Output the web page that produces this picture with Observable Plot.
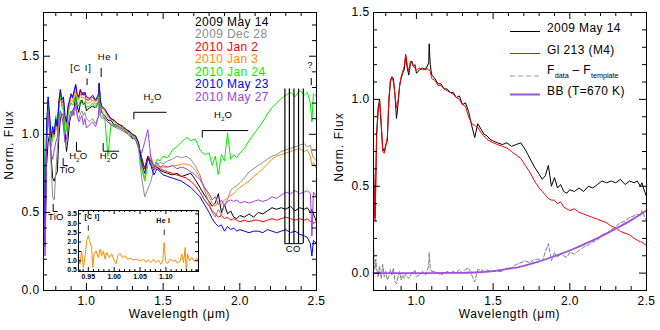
<!DOCTYPE html>
<html><head><meta charset="utf-8">
<script src="https://cdn.jsdelivr.net/npm/d3@7"></script>
<script src="https://cdn.jsdelivr.net/npm/@observablehq/plot@0.6"></script>
<style>
body{margin:0;background:#fff;}
#wrap{position:relative;width:660px;height:330px;}
#left,#right,#inset{position:absolute;}
#left{left:0;top:0;width:330px;height:330px}
#right{left:330px;top:0;width:330px;height:330px}
#inset{left:64px;top:208px;width:136px;height:75px}
svg{display:block;overflow:visible}
</style></head><body><div id="wrap"><div id="left"></div><div id="right"></div><div id="inset"></div></div>
<script>
// ---------------- data ----------------
const WAVE = [0.72,0.725,0.73,0.735,
 0.74,0.75,0.76,0.77,0.78,0.79,0.80,0.81,0.82,0.83,0.84,0.85,0.86,0.87,0.88,0.89,0.90,0.91,0.92,0.93,0.94,0.95,0.96,0.97,0.98,0.99,1.00,
 1.02,1.04,1.06,1.08,1.083,1.09,
 1.10,1.12,1.14,1.16,1.18,1.20,1.22,1.24,1.26,1.28,1.30,1.32,1.34,1.36,1.38,1.40,1.42,1.44,1.46,1.48,1.50,
 1.53,1.56,1.59,1.62,1.65,1.68,1.71,1.74,1.77,1.80,
 1.82,1.84,1.86,1.88,1.90,1.92,1.94,1.96,1.98,2.00,
 2.03,2.06,2.09,2.12,2.15,2.18,2.21,2.24,2.27,2.30,2.33,2.36,2.39,2.42,
 2.44,2.46,2.47,2.48,2.50];

const MAY14 = [0.60,0.45,0.32,0.55,
 0.80,0.95,1.00,0.85,0.72,0.70,0.74,0.76,0.98,1.10,1.13,1.12,1.02,0.89,0.97,1.08,1.12,1.15,1.17,1.25,1.18,1.14,1.20,1.22,1.19,1.20,1.15,
 1.17,1.18,1.17,1.21,1.32,1.20,
 1.14,1.12,1.09,1.09,1.06,1.06,1.04,1.04,1.01,1.02,0.97,0.98,0.93,0.85,0.78,0.86,0.83,0.80,0.79,0.77,0.76,
 0.75,0.74,0.75,0.73,0.74,0.75,0.71,0.66,0.61,0.57,
 0.54,0.56,0.62,0.50,0.55,0.49,0.51,0.47,0.46,0.48,
 0.47,0.49,0.47,0.50,0.49,0.51,0.53,0.52,0.53,0.52,0.54,0.51,0.53,0.52,
 0.53,0.50,0.52,0.49,0.44];

const DEC28 = [1.00,0.75,0.50,0.62,
 0.95,1.10,1.00,0.80,0.60,0.58,0.75,0.90,1.05,1.15,1.10,1.08,0.95,0.92,1.05,1.10,1.12,1.15,1.12,1.18,1.12,1.10,1.13,1.15,1.12,1.14,1.10,
 1.08,1.10,1.07,1.12,1.25,1.12,
 1.10,1.10,1.08,1.07,1.05,1.05,1.04,1.03,1.02,1.01,1.00,0.98,0.90,0.72,0.60,0.65,0.70,0.78,0.80,0.82,0.81,
 0.83,0.84,0.86,0.85,0.86,0.84,0.80,0.74,0.64,0.56,
 0.50,0.47,0.52,0.48,0.55,0.58,0.64,0.66,0.67,0.69,
 0.72,0.76,0.78,0.80,0.82,0.84,0.86,0.87,0.89,0.90,0.91,0.92,0.93,0.94,
 0.92,0.93,0.88,0.85,0.83];

const JAN2 = [0.90,0.62,0.35,0.72,
 1.02,1.22,1.10,0.97,1.02,1.01,1.08,1.04,1.21,1.29,1.20,1.22,1.10,1.06,1.17,1.21,1.25,1.23,1.27,1.31,1.24,1.23,1.29,1.25,1.27,1.25,1.22,
 1.22,1.24,1.21,1.24,1.32,1.21,
 1.18,1.16,1.12,1.10,1.09,1.07,1.06,1.04,1.03,1.02,1.00,0.99,0.94,0.84,0.78,0.86,0.81,0.77,0.79,0.78,0.77,
 0.76,0.75,0.74,0.73,0.72,0.70,0.67,0.63,0.58,0.54,
 0.51,0.49,0.47,0.48,0.46,0.47,0.45,0.46,0.45,0.44,
 0.45,0.44,0.45,0.45,0.44,0.45,0.46,0.45,0.46,0.47,0.46,0.45,0.46,0.45,
 0.46,0.44,0.45,0.43,0.44];

const JAN3 = [0.85,0.65,0.40,0.70,
 1.00,1.18,1.08,0.95,1.00,0.98,1.05,1.02,1.18,1.25,1.18,1.20,1.08,1.04,1.15,1.19,1.22,1.21,1.25,1.28,1.22,1.22,1.26,1.23,1.24,1.23,1.20,
 1.20,1.22,1.19,1.22,1.30,1.20,
 1.17,1.15,1.11,1.09,1.08,1.06,1.05,1.04,1.02,1.01,0.99,0.98,0.93,0.80,0.72,0.84,0.86,0.80,0.80,0.79,0.79,
 0.79,0.80,0.80,0.81,0.81,0.80,0.77,0.72,0.66,0.60,
 0.56,0.54,0.57,0.55,0.58,0.59,0.61,0.62,0.64,0.66,
 0.68,0.70,0.73,0.75,0.78,0.81,0.84,0.86,0.87,0.88,0.89,0.90,0.91,0.89,
 0.90,0.86,0.80,0.82,0.78];

const JAN24 = [1.10,0.80,0.45,0.75,
 1.05,1.22,1.05,0.92,0.98,1.02,1.12,1.05,1.15,1.25,1.18,1.15,1.00,1.03,1.12,1.18,1.20,1.19,1.22,1.25,1.20,1.18,1.22,1.20,1.19,1.21,1.17,
 1.18,1.20,1.17,1.21,1.28,1.18,
 1.15,1.10,0.86,1.06,1.06,1.05,1.04,1.03,1.01,1.00,0.99,0.97,0.92,0.78,0.70,0.80,0.82,0.79,0.84,0.83,0.86,
 0.85,0.90,0.92,0.95,0.98,0.96,0.97,0.90,0.87,0.88,
 0.80,0.86,0.74,0.87,0.83,1.01,0.84,0.87,0.85,0.88,
 0.91,0.96,1.00,1.04,1.08,1.13,1.17,1.20,1.23,1.25,1.27,1.24,1.28,1.25,
 1.27,1.20,1.08,1.26,1.24];

const MAY23 = [0.95,0.60,0.28,0.70,
 1.05,1.24,1.12,0.98,1.05,1.00,1.10,1.05,1.20,1.28,1.22,1.24,1.12,1.08,1.18,1.22,1.26,1.24,1.28,1.32,1.26,1.24,1.28,1.27,1.25,1.27,1.24,
 1.23,1.25,1.22,1.26,1.33,1.22,
 1.18,1.16,1.13,1.10,1.09,1.07,1.06,1.05,1.03,1.02,1.00,0.99,0.95,0.82,0.75,0.85,0.80,0.74,0.78,0.76,0.74,
 0.73,0.72,0.71,0.70,0.68,0.66,0.63,0.60,0.55,0.50,
 0.46,0.43,0.41,0.42,0.38,0.41,0.39,0.40,0.38,0.39,
 0.38,0.37,0.38,0.38,0.37,0.39,0.38,0.37,0.38,0.39,0.37,0.38,0.36,0.35,
 0.34,0.30,0.22,0.32,0.30];

const MAY27 = [0.80,0.45,0.22,0.50,
 0.90,1.15,1.02,0.88,0.84,0.90,0.95,0.98,1.10,1.15,1.12,1.05,0.95,0.97,1.05,1.12,1.15,1.12,1.16,1.20,1.12,1.08,1.10,1.12,1.06,1.10,1.04,
 1.06,1.08,1.05,1.12,1.22,1.13,
 1.12,1.10,1.08,1.06,1.05,1.04,1.03,1.02,1.01,0.99,0.98,0.96,0.92,0.88,0.95,1.03,0.85,0.78,0.82,0.79,0.80,
 0.79,0.80,0.78,0.79,0.78,0.76,0.74,0.71,0.66,0.62,
 0.58,0.60,0.55,0.58,0.54,0.57,0.58,0.57,0.58,0.56,
 0.57,0.56,0.57,0.58,0.57,0.58,0.60,0.59,0.61,0.63,0.62,0.64,0.62,0.63,
 0.64,0.62,0.35,0.63,0.60];

const GL213 = [0.60,0.45,0.30,0.50,
 0.78,0.92,0.99,0.88,0.70,0.69,0.73,0.78,1.00,1.11,1.13,1.10,1.03,0.95,0.99,1.07,1.13,1.16,1.19,1.26,1.20,1.16,1.22,1.21,1.19,1.18,1.17,
 1.18,1.17,1.18,1.17,1.17,1.16,
 1.12,1.11,1.08,1.08,1.06,1.05,1.04,1.03,1.01,1.00,0.97,0.96,0.90,0.86,0.85,0.84,0.81,0.79,0.77,0.76,0.75,
 0.74,0.73,0.72,0.70,0.68,0.66,0.62,0.58,0.53,0.49,
 0.47,0.45,0.43,0.42,0.42,0.40,0.41,0.38,0.37,0.36,
 0.37,0.35,0.34,0.33,0.32,0.31,0.30,0.29,0.27,0.26,0.24,0.23,0.22,0.20,
 0.19,0.18,0.18,0.17,0.16];

const DIFF = [0.18,0.05,0.02,0.08,
 0.03,-0.02,0.04,-0.03,0.05,-0.02,0.01,-0.04,-0.02,0.02,-0.01,0.03,-0.05,-0.06,-0.02,0.01,-0.04,-0.01,-0.03,0.00,-0.02,-0.03,-0.02,0.01,0.00,0.02,-0.02,
 -0.01,0.01,-0.01,0.04,0.12,0.03,
 0.01,0.01,0.00,-0.01,0.00,0.01,0.00,0.01,0.00,0.02,0.00,0.02,0.03,-0.01,-0.05,0.02,0.02,0.01,0.02,0.01,0.01,
 0.01,0.01,0.03,0.03,0.05,0.06,0.07,0.06,0.08,0.08,
 0.07,0.12,0.17,0.07,0.12,0.09,0.11,0.10,0.09,0.12,
 0.11,0.13,0.15,0.16,0.18,0.19,0.22,0.23,0.25,0.27,0.29,0.30,0.32,0.33,
 0.34,0.33,0.36,0.34,0.30];

const BB_WAVE = [0.72,0.9,1.1,1.2,1.3,1.4,1.5,1.6,1.7,1.8,1.9,2.0,2.1,2.2,2.3,2.4,2.5];
const BB_FLUX = [0,0,0,0.001,0.002,0.005,0.012,0.024,0.042,0.067,0.097,0.13,0.168,0.21,0.256,0.305,0.36];

const INSET_WAVE = [0.9307,0.9339,0.9371,0.9404,0.9436,0.9468,0.9501,0.9533,0.9565,0.9585,0.9610,0.9649,0.9694,0.9727,0.9759,0.9791,0.9824,0.9856,0.9908,0.9953,0.9998,1.0037,1.0069,1.0114,1.0166,1.0211,1.0256,1.0308,1.0373,1.0437,1.0502,1.0566,1.0618,1.0663,1.0708,1.0760,1.0811,1.0857,1.0902,1.0941,1.0966,1.0992,1.1031,1.1082,1.1134,1.1179,1.1225,1.1276,1.1308,1.1341,1.1373,1.1392,1.1418,1.1457,1.1502,1.1547,1.1586,1.1632];
const INSET_FLUX = [1.27,0.82,1.53,0.64,1.17,2.07,2.34,1.98,1.71,0.64,1.36,1.53,1.17,1.62,1.27,1.53,1.09,1.44,1.17,1.36,1.04,0.85,1.27,1.39,1.17,1.27,1.09,1.14,1.04,1.09,1.00,1.07,0.94,1.04,0.90,1.09,0.90,1.04,0.82,1.00,1.98,1.00,0.85,1.09,0.98,1.04,0.87,1.00,1.36,0.90,1.71,0.46,1.36,1.00,1.17,0.98,1.14,1.00];

const LEFT_NAMES = ["2009 May 14","2009 Dec 28","2010 Jan 2","2010 Jan 3","2010 Jan 24","2010 May 23","2010 May 27"];
const LEFT_COLORS = ["#000000","#8c8c8c","#ff0000","#ff8c00","#00ee00","#0000ff","#a040e0"];
const RIGHT_NAMES = ["2009 May 14","Gl 213 (M4)","F_data – F_template","BB (T=670 K)"];

const X_MAJOR = [1.0,1.5,2.0,2.5];
const X_MINOR = [0.8,0.9,1.1,1.2,1.3,1.4,1.6,1.7,1.8,1.9,2.1,2.2,2.3,2.4];
const LY_MAJOR = [0,0.5,1.0,1.5];
const LY_MINOR = [0.1,0.2,0.3,0.4,0.6,0.7,0.8,0.9,1.1,1.2,1.3,1.4,1.6,1.7];
const RY_MAJOR = [0,0.5,1.0,1.5];
const RY_MINOR = [0.1,0.2,0.3,0.4,0.6,0.7,0.8,0.9,1.1,1.2,1.3,1.4];
const IX_MAJOR = [0.95,1.00,1.05,1.10];
const IX_MINOR = [0.94,0.96,0.97,0.98,0.99,1.01,1.02,1.03,1.04,1.06,1.07,1.08,1.09,1.11,1.12,1.13,1.14,1.15,1.16];
const IY_MAJOR = [0.5,1.0,1.5,2.0,2.5,3.0,3.5];

// annotations (data units of the left panel)
const CO_HEADS = [2.294,2.323,2.353,2.383,2.414];
const CO_RANGE = [0.30,1.29];
const MARK_TICKS = [ {x:1.004,y1:1.312,y2:1.355}, {x:1.096,y1:1.364,y2:1.421}, {x:2.466,y1:1.312,y2:1.357} ];
const BRACKETS = [
  {id:"h2o_a", pts:[[1.309,1.099],[1.309,1.141],[1.52,1.141]]},
  {id:"h2o_b", pts:[[1.755,0.981],[1.755,1.024],[2.052,1.024]]},
  {id:"h2o_c", pts:[[0.935,0.949],[0.935,0.892],[0.965,0.892]]},
  {id:"h2o_d", pts:[[1.109,0.942],[1.109,0.892],[1.211,0.892]]},
  {id:"tio_a", pts:[[0.848,0.845],[0.848,0.80],[0.876,0.80]]},
  {id:"tio_b", pts:[[0.783,0.551],[0.783,0.506],[0.809,0.506]]}
];
const LABELS = [
  {t:["[C I]"], x:0.967, y:1.405, ls:0.8},
  {t:["He I"], x:1.1435, y:1.472, ls:0.8},
  {t:["H",{s:"2"},"O"], x:1.434, y:1.216},
  {t:["H",{s:"2"},"O"], x:1.894, y:1.099},
  {t:["H",{s:"2"},"O"], x:0.950, y:0.839},
  {t:["H",{s:"2"},"O"], x:1.150, y:0.839},
  {t:["TiO"], x:0.879, y:0.747},
  {t:["TiO"], x:0.804, y:0.448},
  {t:["?"], x:2.461, y:1.419},
  {t:["CO"], x:2.352, y:0.241}
];
const INSET_LABELS = [ {t:["[C I]"], x:0.958, y:3.19}, {t:["He I"], x:1.096, y:3.0} ];
const INSET_TICKS = [ {x:0.950,y1:2.57,y2:2.87}, {x:1.0967,y1:2.34,y2:2.64} ];

// ---------------- helpers ----------------
const FONT = '"Liberation Sans", Arial, Helvetica, sans-serif';
const rows = (wave, vals) => wave.map((w,i)=>({w, v: vals[i]}));

function frameTicks(xMaj, xMin, yMaj, yMin, iw, ih, maj, min){
  return [
    Plot.ruleX(xMaj,{insetTop: ih-maj}), Plot.ruleX(xMaj,{insetBottom: ih-maj}),
    Plot.ruleX(xMin,{insetTop: ih-min}), Plot.ruleX(xMin,{insetBottom: ih-min}),
    Plot.ruleY(yMaj,{insetRight: iw-maj}), Plot.ruleY(yMaj,{insetLeft: iw-maj}),
    Plot.ruleY(yMin,{insetRight: iw-min}), Plot.ruleY(yMin,{insetLeft: iw-min})
  ];
}

function richText(sel, x, y, parts, o={}){
  const size = o.size || 9;
  const t = sel.append("text").attr("x",x).attr("y",y)
    .attr("text-anchor", o.anchor || "middle").attr("dy","0.36em")
    .attr("font-family",FONT).attr("font-size",size)
    .attr("fill", o.fill || "black").attr("letter-spacing", o.ls || 0)
    .attr("font-weight", o.weight || "normal");
  if (o.rotate) t.attr("transform", `rotate(${o.rotate},${x},${y})`);
  let down = 0;
  for (const p of parts){
    if (typeof p === "string"){
      t.append("tspan").attr("dy", -down).text(p); down = 0;
    } else {
      const d = size*0.32;
      t.append("tspan").attr("dy", d - down).attr("font-size", size*(o.subScale||0.62)).attr("letter-spacing",0).text(p.s);
      down = d;
    }
  }
  return t;
}

function axisTitles(svg, ycenter){
  const s = d3.select(svg);
  richText(s, 179.5, 318, ["Wavelength (μm)"], {size:12, ls:0.7});
  richText(s, 13, ycenter, ["Norm. Flux"], {size:12, ls:1.1, rotate:-90});
}

// ---------------- left panel ----------------
const W = 330, H = 330, ML = 43, MR = 14, MT = 12, MB = 40;
const IW = W-ML-MR, IH = H-MT-MB;
const leftSeries = [MAY14, DEC28, JAN2, JAN3, JAN24, MAY23, MAY27];
const bracketRows = BRACKETS.flatMap(b => b.pts.map(([x,y]) => ({id:b.id, x, y})));

const left = Plot.plot({
  width: W, height: H, marginLeft: ML, marginRight: MR, marginTop: MT, marginBottom: MB,
  style: {fontFamily: FONT, fontSize: "12px", letterSpacing: "0.4px", background: "transparent", color: "black"},
  x: {domain: [0.72, 2.5], label: null},
  y: {domain: [0, 1.78], label: null},
  marks: [
    ...leftSeries.map((vals,i) => Plot.line(rows(WAVE, vals), {x:"w", y:"v", stroke: LEFT_COLORS[i], strokeWidth: 1, strokeLinejoin:"round"})),
    Plot.ruleX(CO_HEADS, {y1: CO_RANGE[0], y2: CO_RANGE[1], stroke: "black", strokeWidth: 1.2}),
    Plot.ruleY([CO_RANGE[0]], {x1: CO_HEADS[0], x2: CO_HEADS[CO_HEADS.length-1], stroke: "black", strokeWidth: 1}),
    Plot.line(bracketRows, {x:"x", y:"y", z:"id", stroke:"black", strokeWidth: 1}),
    Plot.ruleX(MARK_TICKS, {x:"x", y1:"y1", y2:"y2", stroke:"black", strokeWidth: 1}),
    ...frameTicks(X_MAJOR, X_MINOR, LY_MAJOR, LY_MINOR, IW, IH, 7, 4),
    Plot.axisX({ticks: X_MAJOR, tickFormat: ".1f", tickSize: 0, tickPadding: 6, label: null}),
    Plot.axisY({ticks: LY_MAJOR, tickFormat: ".1f", tickSize: 0, tickPadding: 4, label: null}),
    Plot.frame({stroke: "black", strokeWidth: 1})
  ]
});
document.getElementById("left").appendChild(left);
{
  const sx = left.scale("x"), sy = left.scale("y"), s = d3.select(left);
  for (const L of LABELS) richText(s, sx.apply(L.x), sy.apply(L.y), L.t, {size: 9.5, ls: L.ls || 0.3});
  LEFT_NAMES.forEach((n,i) => richText(s, 195, 25.5 + i*12.55, [n], {size: 12, ls: 0.4, anchor: "start", fill: LEFT_COLORS[i]}));
  axisTitles(left, 145);
}

// ---------------- right panel ----------------
const right = Plot.plot({
  width: W, height: H, marginLeft: ML, marginRight: MR, marginTop: MT, marginBottom: MB,
  style: {fontFamily: FONT, fontSize: "12px", letterSpacing: "0.4px", background: "transparent", color: "black"},
  x: {domain: [0.72, 2.5], label: null},
  y: {domain: [-0.1, 1.5], label: null},
  marks: [
    Plot.line(rows(WAVE, MAY14), {x:"w", y:"v", stroke:"#000000", strokeWidth: 1, strokeLinejoin:"round"}),
    Plot.line(rows(WAVE, GL213), {x:"w", y:"v", stroke:"#ff0000", strokeWidth: 1, strokeLinejoin:"round"}),
    Plot.line(rows(WAVE, DIFF), {x:"w", y:"v", stroke:"#808080", strokeWidth: 1, strokeDasharray: "4,2"}),
    Plot.line(rows(BB_WAVE, BB_FLUX), {x:"w", y:"v", stroke:"#a050e0", strokeWidth: 1.8, curve: "monotone-x"}),
    ...frameTicks(X_MAJOR, X_MINOR, RY_MAJOR, RY_MINOR, IW, IH, 7, 4),
    Plot.axisX({ticks: X_MAJOR, tickFormat: ".1f", tickSize: 0, tickPadding: 6, label: null}),
    Plot.axisY({ticks: RY_MAJOR, tickFormat: ".1f", tickSize: 0, tickPadding: 4, label: null}),
    Plot.frame({stroke: "black", strokeWidth: 1})
  ]
});
document.getElementById("right").appendChild(right);
{
  const s = d3.select(right);
  const legendRows = [
    {y: 31.5, color: "#000000", dash: null, w: 1, parts: [RIGHT_NAMES[0]]},
    {y: 53.5, color: "#ff0000", dash: null, w: 1, parts: [RIGHT_NAMES[1]]},
    {y: 76, color: "#999999", dash: "5,3", w: 1.2, parts: ["F", {s:"data"}, " – F", {s:"template"}]},
    {y: 94.5, color: "#a050e0", dash: null, w: 2, parts: [RIGHT_NAMES[3]]}
  ];
  for (const r of legendRows){
    s.append("line").attr("x1",180).attr("x2",210).attr("y1",r.y).attr("y2",r.y)
      .attr("stroke", r.color).attr("stroke-width", r.w).attr("stroke-dasharray", r.dash);
    richText(s, 217, r.y - (r.parts.length > 1 ? 2 : 0), r.parts, {size: 12, ls: 0.4, anchor: "start", subScale: 0.6});
  }
  axisTitles(right, 147);
}

// ---------------- inset ----------------
const IWi = 120, IHi = 61;
const inset = Plot.plot({
  width: 136, height: 75, marginLeft: 14, marginRight: 2, marginTop: 2, marginBottom: 12,
  style: {fontFamily: FONT, fontSize: "7px", fontWeight: "bold", background: "transparent", color: "black"},
  x: {domain: [0.931, 1.163], label: null},
  y: {domain: [0.43, 3.68], label: null},
  marks: [
    Plot.frame({fill: "white"}),
    Plot.line(rows(INSET_WAVE, INSET_FLUX), {x:"w", y:"v", stroke:"#ff8c00", strokeWidth: 1, strokeLinejoin:"round"}),
    Plot.ruleX(INSET_TICKS, {x:"x", y1:"y1", y2:"y2", stroke:"black", strokeWidth: 0.8}),
    Plot.ruleX(IX_MAJOR,{insetTop: IHi-4}), Plot.ruleX(IX_MAJOR,{insetBottom: IHi-4}),
    Plot.ruleX(IX_MINOR,{insetTop: IHi-2}), Plot.ruleX(IX_MINOR,{insetBottom: IHi-2}),
    Plot.ruleY(IY_MAJOR,{insetRight: IWi-3}), Plot.ruleY(IY_MAJOR,{insetLeft: IWi-3}),
    Plot.axisX({ticks: IX_MAJOR, tickFormat: ".2f", tickSize: 0, tickPadding: 3, label: null}),
    Plot.axisY({ticks: IY_MAJOR, tickFormat: ".1f", tickSize: 0, tickPadding: 1.5, label: null}),
    Plot.frame({stroke: "black", strokeWidth: 1})
  ]
});
document.getElementById("inset").appendChild(inset);
{
  const sx = inset.scale("x"), sy = inset.scale("y"), s = d3.select(inset);
  for (const L of INSET_LABELS) richText(s, sx.apply(L.x), sy.apply(L.y), L.t, {size: 7, ls: 0.3, weight: "bold"});
}
</script>
</body></html>
